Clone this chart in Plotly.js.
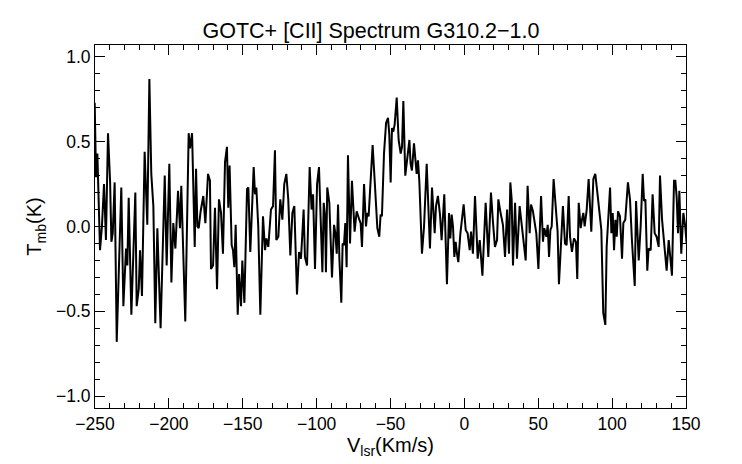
<!DOCTYPE html>
<html>
<head>
<meta charset="utf-8">
<script src="https://cdn.plot.ly/plotly-3.0.1.min.js"></script>
<style>body{margin:0;background:#fff}#plot{width:742px;height:464px}</style>
</head>
<body>
<div id="plot"></div>
<script>
// velocity (km/s) and main-beam temperature (K)
var vel = [-250.2,-249.3,-248.4,-247.5,-246.6,-245.3,-243.9,-242.6,-241.2,-239.8,-238.9,-238.0,-236.7,-235.3,-233.5,-232.2,-230.8,-229.0,-228.1,-227.2,-225.4,-222.7,-221.8,-220.4,-219.5,-218.2,-216.4,-214.6,-213.2,-211.9,-210.5,-209.2,-207.8,-205.6,-202.8,-201.5,-199.7,-198.3,-197.0,-195.6,-193.8,-192.5,-191.6,-190.2,-188.9,-186.6,-185.7,-184.3,-182.5,-181.6,-180.7,-179.8,-178.5,-176.7,-175.3,-173.5,-172.2,
 -171.5,-170.1,-168.8,-167.4,-166.1,-164.7,-163.4,-162.0,-160.7,-159.8,-158.9,-157.5,-156.6,-155.7,-154.8,-153.4,-152.5,-151.2,-150.3,-148.9,-147.1,-146.2,-144.9,-142.6,-141.7,-140.8,-139.5,-138.1,-136.3,-134.9,-134.0,-132.7,-130.9,-129.5,-128.2,-127.3,-125.9,-124.6,-123.2,-121.9,-120.5,-119.2,-117.8,-116.4,-115.1,-113.3,-111.9,-110.6,-109.7,-108.8,-107.9,-106.5,-104.7,-103.4,-102.4,-101.1,-99.7,-98.4,-96.1,-95.2,-94.3,
 -93.7,-92.8,-91.4,-89.6,-88.2,-87.3,-86.4,-85.5,-84.6,-83.3,-82.4,-81.5,-80.6,-79.7,-78.8,-77.4,-76.1,-74.3,-72.9,-71.1,-70.2,-69.3,-67.9,-66.6,-65.7,-64.8,-63.4,-62.1,-60.7,-58.9,-57.6,-56.7,-55.8,-54.4,-53.0,-51.7,-50.8,-49.9,-49.0,-48.1,-47.2,-45.8,-44.5,-43.1,-42.2,-41.3,-40.0,-38.6,-37.2,-36.4,-35.5,-34.1,-33.2,-32.3,-31.4,-30.5,-28.7,-27.3,-25.5,-24.2,-23.3,-21.9,-20.1,-19.2,-17.9,-16.5,
 -15.4,-13.6,-11.8,-10.4,-9.5,-8.6,-7.7,-6.8,-5.9,-5.0,-4.1,-2.7,-1.8,-0.5,0.9,2.2,3.6,4.5,5.8,7.2,9.0,10.4,12.2,14.4,16.2,18.0,19.4,20.7,22.1,23.0,24.3,26.1,27.5,28.9,30.2,31.1,32.0,32.9,34.3,35.6,37.4,39.2,40.1,41.5,42.8,44.2,45.1,46.4,48.7,50.1,51.9,53.2,54.1,55.5,56.4,57.3,58.2,59.1,60.4,61.8,63.1,64.0,65.8,66.7,68.1,
 69.2,70.6,71.5,72.8,74.2,75.5,76.4,77.4,78.7,79.6,80.5,81.4,82.8,84.1,85.9,87.3,88.6,90.0,91.3,92.7,94.0,95.4,96.3,97.7,98.6,99.5,100.4,101.3,102.2,103.1,104.0,105.3,106.7,107.6,108.9,110.7,112.1,113.4,115.3,116.2,118.0,119.3,120.7,121.6,122.5,123.8,124.7,126.1,127.4,128.8,130.1,131.5,132.4,133.8,135.6,136.9,138.3,139.2,140.5,141.9,142.8,143.7,144.6,145.5,146.8,148.2,149.5,150.4];
var tmb = [0.73,0.29,0.43,0.18,-0.14,0.0,0.25,-0.08,0.55,0.27,-0.09,-0.04,0.26,-0.68,-0.19,0.23,-0.47,-0.13,-0.23,0.17,-0.52,0.20,-0.47,-0.37,-0.14,-0.41,0.44,0.01,0.87,0.31,0.12,-0.57,-0.01,-0.60,0.30,-0.23,0.37,-0.33,0.02,-0.13,0.21,-0.01,0.24,-0.17,-0.56,0.55,0.46,0.55,-0.12,0.34,0.0,-0.01,0.09,0.18,0.02,0.31,0.27,
 -0.25,-0.23,0.11,-0.37,0.16,0.08,-0.16,0.38,0.47,0.11,0.36,-0.11,-0.14,-0.24,0.01,-0.52,-0.28,-0.47,-0.20,-0.45,0.22,0.23,-0.15,0.35,0.19,0.23,0.0,-0.52,0.06,-0.14,-0.07,-0.12,0.10,0.12,0.45,-0.08,-0.06,0.16,0.04,0.25,0.31,0.16,-0.17,0.08,0.12,-0.40,-0.15,-0.19,-0.05,0.10,-0.18,-0.23,0.35,0.10,0.19,-0.25,0.25,0.35,-0.27,0.14,0.06,
 -0.27,0.23,0.14,-0.30,0.01,-0.04,-0.16,0.13,-0.19,-0.45,-0.10,-0.11,0.02,-0.24,0.42,-0.10,0.27,-0.03,0.09,0.04,0.02,-0.12,0.25,0.0,0.08,0.06,0.31,0.48,0.27,-0.01,-0.06,0.07,0.06,0.43,0.61,0.64,0.54,0.26,0.58,0.56,0.60,0.76,0.51,0.43,0.47,0.74,0.30,0.39,0.51,0.37,0.33,0.49,0.41,0.31,0.39,0.27,-0.16,0.0,0.37,0.08,-0.13,0.23,-0.04,0.12,0.18,0.07,
 -0.08,0.19,-0.34,0.08,-0.07,0.07,0.0,-0.18,-0.09,-0.16,-0.21,-0.04,0.02,0.13,-0.02,-0.04,-0.14,-0.03,-0.16,0.18,-0.19,-0.08,-0.29,0.14,-0.18,0.20,0.02,-0.12,-0.08,0.16,0.09,0.01,-0.18,0.10,-0.16,0.26,0.16,-0.23,0.14,-0.19,0.12,-0.02,-0.09,-0.20,0.24,-0.04,0.13,0.09,-0.04,-0.25,0.18,-0.09,-0.01,-0.06,0.01,-0.18,-0.02,0.0,0.28,0.14,-0.03,-0.34,0.02,0.12,-0.10,
 -0.11,0.18,-0.06,-0.15,-0.07,-0.09,-0.31,0.14,-0.01,0.04,0.08,0.0,0.10,0.28,-0.03,0.28,0.31,0.20,0.09,-0.02,-0.51,-0.58,-0.12,0.08,0.23,-0.04,0.08,-0.14,0.04,-0.06,0.09,0.06,-0.19,0.02,0.04,0.26,0.16,-0.08,-0.35,0.15,-0.20,0.0,0.31,0.15,0.16,-0.26,-0.13,-0.14,0.19,-0.04,-0.06,-0.12,0.30,0.04,-0.16,-0.26,-0.08,-0.16,-0.29,0.27,0.27,0.17,-0.04,0.21,-0.16,0.08,0.0,-0.10];

var axisBase = {
  showgrid: false, zeroline: false, showline: true, linecolor: '#000', linewidth: 1,
  mirror: 'allticks', ticks: 'inside', tickcolor: '#000', ticklen: 10,
  tickfont: {size: 17.5, color: '#000'}
};
var layout = {
  width: 742, height: 464,
  margin: {l: 95, r: 56, t: 45, b: 56},
  paper_bgcolor: '#fff', plot_bgcolor: '#fff',
  font: {family: 'Liberation Sans, Arial, sans-serif', color: '#000'},
  showlegend: false,
  title: {text: 'GOTC+ [CII] Spectrum G310.2\u22121.0', x: 0.5, xanchor: 'center', y: 0.935, yanchor: 'middle', font: {size: 21.5}},
  xaxis: Object.assign({}, axisBase, {
    range: [-250, 150], dtick: 50, tick0: 0,
    minor: {dtick: 10, ticks: 'inside', ticklen: 5, tickcolor: '#000'},
    title: {text: 'V<sub>lsr</sub>(Km/s)', font: {size: 20}, standoff: 4}
  }),
  yaxis: Object.assign({}, axisBase, {
    range: [-1.07, 1.07], dtick: 0.5, tick0: 0, tickformat: '.1f',
    minor: {dtick: 0.1, ticks: 'inside', ticklen: 5, tickcolor: '#000'},
    title: {text: 'T<sub>mb</sub>(K)', font: {size: 20}, standoff: 8}
  })
};
Plotly.newPlot('plot', [{
  x: vel, y: tmb, type: 'scatter', mode: 'lines',
  line: {color: '#000', width: 2}
}], layout, {staticPlot: true});
</script>
</body>
</html>
